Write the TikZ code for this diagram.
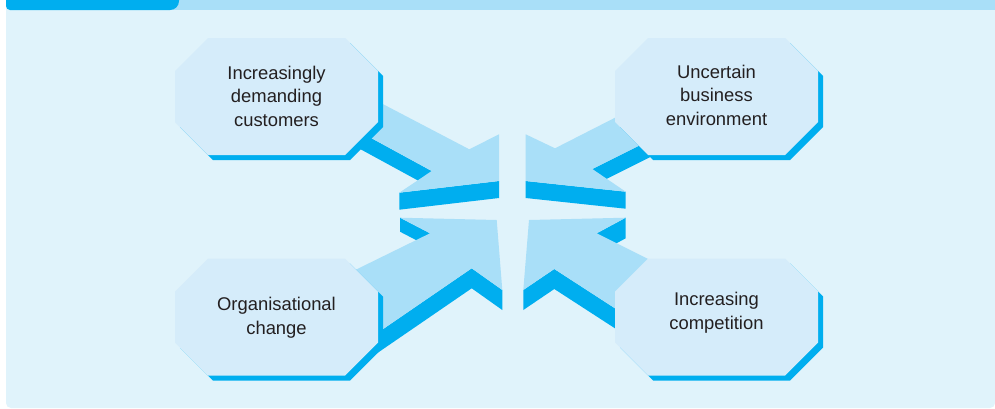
\documentclass[tikz,border=0pt]{standalone}
\usepackage{fontspec}
\setmainfont{Liberation Sans}

\definecolor{panelblue}{HTML}{E0F3FB}
\definecolor{boxblue}{HTML}{D5ECFA}
\definecolor{arrowblue}{HTML}{A9DFF8}
\definecolor{deepblue}{HTML}{00AEEF}
\definecolor{textgrey}{HTML}{231F20}

\tikzset{
  octbox/.pic={
    \fill[deepblue, shift={(5,5)}] (-68.5,-58.5) -- (68.5,-58.5) -- (101.5,-25.5) -- (101.5,25.5) -- (68.5,58.5) -- (-68.5,58.5) -- (-101.5,25.5) -- (-101.5,-25.5) -- cycle;
    \fill[boxblue] (-68.5,-58.5) -- (68.5,-58.5) -- (101.5,-25.5) -- (101.5,25.5) -- (68.5,58.5) -- (-68.5,58.5) -- (-101.5,25.5) -- (-101.5,-25.5) -- cycle;
  },
  factor/.style={align=center, text=textgrey, inner sep=0pt,
    font=\fontsize{18.4}{23.5}\selectfont},
  arrowface/.style={fill=arrowblue},
  arrowside/.style={fill=deepblue}
}

\begin{document}
\begin{tikzpicture}[x=1pt, y=-1pt]

    \useasboundingbox (0,0) rectangle (995,408);
    \fill[white] (0,0) rectangle (995,408);

    % Panel and title bar
    \fill[panelblue] (6,5) {[rounded corners=5pt] -- (6,408) -- (995,408)} -- (995,5) -- cycle;
    \fill[arrowblue] (170,0) rectangle (995,10);
    \fill[deepblue] (6,0) {[rounded corners=4pt] -- (6,10)} {[rounded corners=9pt] -- (179,10)} -- (179,0) -- cycle;

    % Arrow from top left
    \fill[arrowside] (330,115.6) -- (431.7,171) -- (431.7,188) -- (330,132.6) -- cycle;
    \fill[arrowside] (399.3,192.7) -- (499,181) -- (499,198) -- (399.3,209.7) -- cycle;
    \fill[arrowface] (330,76.4) -- (469.3,149.3) -- (499,134.3) -- (499,181) -- (399.3,192.7) -- (431.7,171) -- (330,115.6) -- cycle;

    % Arrow from top right
    \fill[arrowside] (592.3,169) -- (680,125.2) -- (680,142.2) -- (592.3,186) -- cycle;
    \fill[arrowside] (525.7,181) -- (625.7,191.7) -- (625.7,208.7) -- (525.7,198) -- cycle;
    \fill[arrowface] (680,84.6) -- (555,148.3) -- (525.7,134.3) -- (525.7,181) -- (625.7,191.7) -- (592.3,169) -- (680,125.2) -- cycle;

    % Arrow from bottom left
    \fill[arrowside] (400,217.7) -- (430,233.3) -- (430,247.3) -- (400,231.7) -- cycle;
    \fill[arrowside] (345,355.2) -- (471.7,268.3) -- (502.3,290) -- (502.3,310) -- (471.7,288.3) -- (345,375.2) -- cycle;
    \fill[arrowface] (400,217.7) -- (496.7,220) -- (502.3,290) -- (471.7,268.3) -- (345,355.2) -- (345,275) -- (430,233.3) -- cycle;

    % Arrow from bottom right
    \fill[arrowside] (596.7,233.3) -- (625.7,217.7) -- (625.7,238.3) -- (596.7,253.9) -- cycle;
    \fill[arrowside] (523.3,290) -- (554.3,269) -- (660,337.5) -- (660,357.5) -- (554.3,289) -- (523.3,310) -- cycle;
    \fill[arrowface] (529,220) -- (625.7,217.7) -- (596.7,233.3) -- (660,265) -- (660,337.5) -- (554.3,269) -- (523.3,290) -- cycle;

    % Octagon boxes
    \pic at (276.5,96.5) {octbox};
    \pic at (716.5,96.5) {octbox};
    \pic at (276.5,317) {octbox};
    \pic at (716.5,317) {octbox};

    % Pressures
    \node[factor] (customers) at (276.5,96) {Increasingly\\demanding\\customers};
    \node[factor] (uncertain) at (716.5,95) {Uncertain\\business\\environment};
    \node[factor] (orgchange) at (276.5,317.5) {Organisational\\change};
    \node[factor] (competition) at (716.5,312.5) {Increasing\\competition};

\end{tikzpicture}
\end{document}
